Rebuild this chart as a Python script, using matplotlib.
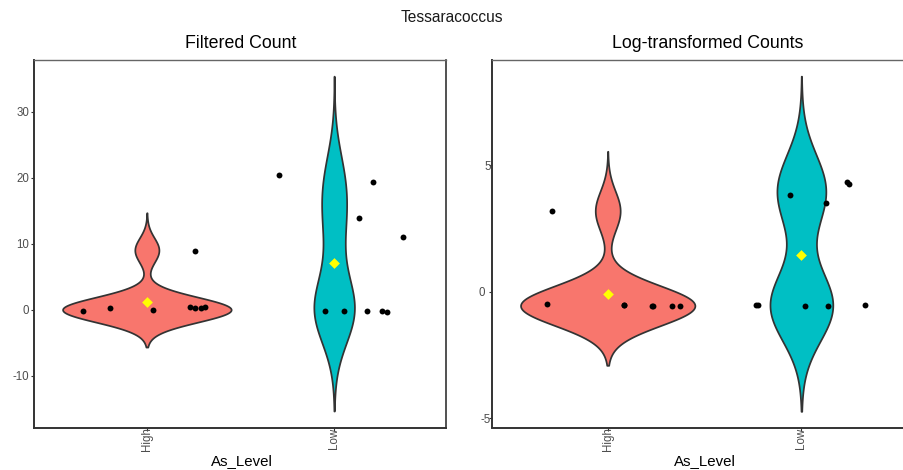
import numpy as np
from matplotlib import pyplot as plt
from matplotlib import transforms

plt.rcParams['font.family'] = ['Liberation Sans', 'DejaVu Sans']
plt.rcParams['axes.unicode_minus'] = False

groups = ['High', 'Low']
group_colors = ['#F8766D', '#00BFC4']

# raw values (used for violins and means)
filtered_high = [0, 0, 0, 0, 0, 0, 0, 9]
filtered_low = [20, 19, 14, 11, 0, 0, 0, 0, 0]
log_high = [-0.55, -0.55, -0.55, -0.55, -0.55, -0.55, -0.55, 3.19]
log_low = [-0.55, -0.55, -0.55, -0.55, -0.55, 3.82, 3.51, 4.34, 4.24]

# jittered points as they appear (x offset from group, y value)
filtered_high_dx = [-0.342, -0.199, 0.031, 0.257, 0.233, 0.256, 0.287, 0.310]
filtered_high_y = [-0.20, 0.21, -0.05, 8.94, 0.38, 0.21, 0.30, 0.38]
filtered_low_dx = [-0.294, 0.206, 0.134, 0.366, -0.048, 0.054, 0.174, 0.254, 0.281]
filtered_low_y = [20.41, 19.39, 13.85, 11.06, -0.15, -0.15, -0.20, -0.20, -0.30]
log_high_dx = [-0.314, -0.288, 0.082, 0.230, 0.332, 0.374, 0.085, 0.235]
log_high_y = [-0.50, 3.19, -0.53, -0.55, -0.55, -0.55, -0.53, -0.55]
log_low_dx = [-0.232, -0.226, -0.057, 0.021, 0.128, 0.138, 0.236, 0.248, 0.330]
log_low_y = [-0.53, -0.53, 3.82, -0.56, 3.51, -0.56, 4.34, 4.24, -0.53]

W, H = 904, 470
TICK_COLOR = '#4d4d4d'


def bw_nrd0(x):
    x = np.asarray(x, dtype=float)
    hi = np.std(x, ddof=1)
    q75, q25 = np.percentile(x, [75, 25])
    lo = min(hi, (q75 - q25) / 1.34)
    if not lo:
        lo = hi
    return 0.9 * lo * len(x) ** -0.2


def density(x):
    x = np.asarray(x, dtype=float)
    bw = bw_nrd0(x)
    grid = np.linspace(x.min() - 3 * bw, x.max() + 3 * bw, 512)
    d = np.exp(-0.5 * ((grid[:, None] - x[None, :]) / bw) ** 2).sum(axis=1)
    d /= len(x) * bw * np.sqrt(2 * np.pi)
    return grid, d


def draw_panel(ax, raw, dxs, ys, ylim, yticks):
    dens = [density(r) for r in raw]
    dmax = max(d.max() for _, d in dens)
    for i, (grid, d) in enumerate(dens):
        xc = i + 1
        half = 0.45 * d / dmax
        ax.fill_betweenx(grid, xc - half, xc + half, facecolor=group_colors[i],
                         edgecolor='#333333', linewidth=1.25, zorder=1)
        ax.scatter(np.array(dxs[i]) + xc, ys[i], s=18, color='black',
                   linewidths=0, zorder=3)
        ax.scatter([xc], [np.mean(raw[i])], s=30, marker='D', color='#FFFF00',
                   linewidths=0, zorder=4)
    ax.set_xlim(0.4, 2.6)
    ax.set_ylim(*ylim)
    ax.set_xticks([1, 2])
    ax.set_xticklabels(groups, rotation=90, va='top')
    ax.set_yticks(yticks)
    ax.tick_params(axis='x', length=2.2, width=0.8, pad=-2.2, labelsize=8.3,
                   colors='#333333', labelcolor=TICK_COLOR)
    ax.tick_params(axis='y', length=2.2, width=0.8, pad=1.6, labelsize=8.3,
                   colors='#333333', labelcolor=TICK_COLOR)
    for side in ['left', 'bottom']:
        ax.spines[side].set_color('#333333')
        ax.spines[side].set_linewidth(1.4)
    ax.spines['top'].set_color('#666666')
    ax.spines['top'].set_linewidth(1.0)
    ax.spines['right'].set_color('#333333')
    ax.spines['right'].set_linewidth(1.2)


fig = plt.figure(figsize=(W / 100, H / 100), dpi=100)

ax1 = fig.add_axes([34.5 / W, 42.5 / H, 412 / W, 367.5 / H])
draw_panel(ax1, [filtered_high, filtered_low],
           [filtered_high_dx, filtered_low_dx],
           [filtered_high_y, filtered_low_y],
           (-17.85, 37.8), [-10, 0, 10, 20, 30])

# right panel is cut off by the figure edge in the original
ax2 = fig.add_axes([491.5 / W, 42.5 / H, 426.1 / W, 367.5 / H])
draw_panel(ax2, [log_high, log_low],
           [log_high_dx, log_low_dx],
           [log_high_y, log_low_y],
           (-5.36, 9.15), [-5, 0, 5])
ax2.tick_params(axis='y', pad=2.6)
for lab in ax2.get_yticklabels():
    if lab.get_text() != '0':
        lab.set_transform(lab.get_transform() +
                          transforms.ScaledTranslation(6 / 100, 0, fig.dpi_scale_trans))

fig.text(452 / W, 1 - 18 / H, 'Tessaracoccus', ha='center', va='center',
         fontsize=11.2, color='#1a1a1a')
fig.text(241 / W, 1 - 43 / H, 'Filtered Count', ha='center', va='center',
         fontsize=12.8, color='black')
fig.text(708 / W, 1 - 43 / H, 'Log-transformed Counts', ha='center', va='center',
         fontsize=12.8, color='black')
fig.text(242 / W, 1 - 461 / H, 'As_Level', ha='center', va='center',
         fontsize=10.8, color='black')
fig.text(705 / W, 1 - 461 / H, 'As_Level', ha='center', va='center',
         fontsize=10.8, color='black')

fig.savefig('out.png', dpi=100)
